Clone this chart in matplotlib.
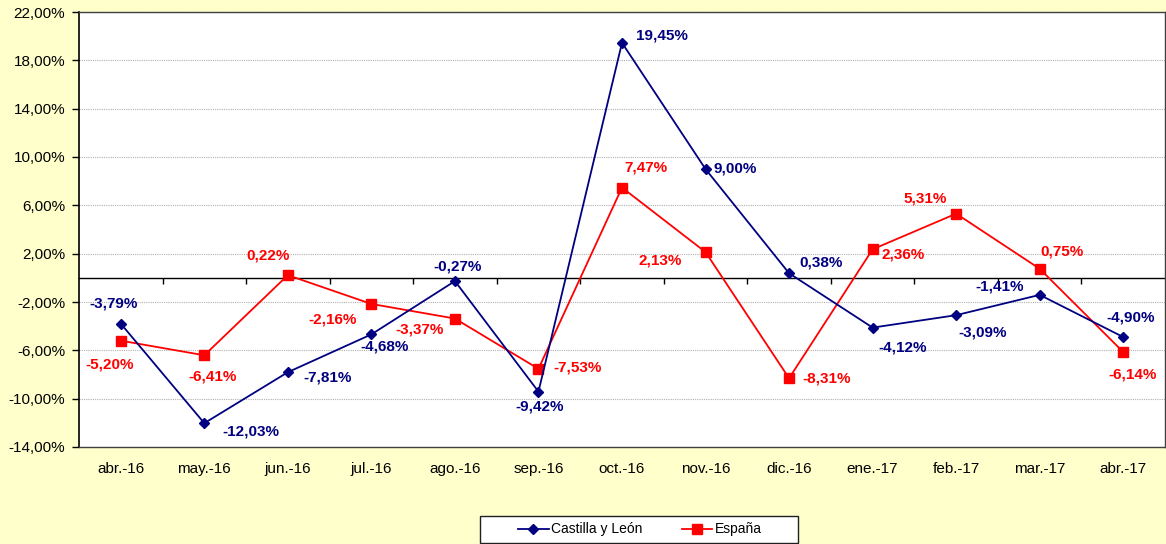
import matplotlib
matplotlib.use("Agg")
import matplotlib.pyplot as plt
from matplotlib.ticker import FixedLocator, FuncFormatter
from matplotlib.lines import Line2D
from matplotlib.patches import Rectangle

categories = ["abr.-16", "may.-16", "jun.-16", "jul.-16", "ago.-16", "sep.-16", "oct.-16",
              "nov.-16", "dic.-16", "ene.-17", "feb.-17", "mar.-17", "abr.-17"]
castilla = [-3.79, -12.03, -7.81, -4.68, -0.27, -9.42, 19.45, 9.00, 0.38, -4.12, -3.09, -1.41, -4.90]
espana = [-5.20, -6.41, 0.22, -2.16, -3.37, -7.53, 7.47, 2.13, -8.31, 2.36, 5.31, 0.75, -6.14]
series_names = ["Castilla y León", "España"]
y_ticks = [-14, -10, -6, -2, 2, 6, 10, 14, 18, 22]

# label offsets (style, pixels)
off_cyl = [(-7, 20), (47, -8), (40, -5), (13, -12), (3, 15), (1, -15), (40, 7),
           (30, 1), (32, 11), (30, -20), (26, -17), (-40, 8), (7, 20)]
off_esp = [(-11, -24), (8, -21), (-20, 20), (-39, -16), (-35, -11), (39, 1), (24, 20),
           (-45, -8), (38, 0), (31, -5), (-31, 15), (22, 17), (9, -22)]

NAVY = "#000080"
RED = "#FF0000"
BG = "#FFFFCC"
W, H = 1166, 544

plt.rcParams['font.family'] = ['Liberation Sans', 'DejaVu Sans']

fig = plt.figure(figsize=(W / 100, H / 100), dpi=100, facecolor=BG)
ax = fig.add_axes([79 / W, 1 - 447 / H, 1086 / W, 435 / H])
ax.set_facecolor("white")

x = list(range(len(categories)))
ax.plot(x, castilla, color=NAVY, lw=1.3, marker="D", ms=5, zorder=4)
ax.plot(x, espana, color=RED, lw=1.3, marker="s", ms=6.5, zorder=3)

for xi, v, o in zip(x, castilla, off_cyl):
    ax.annotate(f"{v:.2f}%".replace(".", ","), (xi, v), xytext=o, textcoords="offset pixels",
                ha="center", va="center", color=NAVY, fontsize=11, fontweight="bold", zorder=6)
for xi, v, o in zip(x, espana, off_esp):
    ax.annotate(f"{v:.2f}%".replace(".", ","), (xi, v), xytext=o, textcoords="offset pixels",
                ha="center", va="center", color=RED, fontsize=11, fontweight="bold", zorder=6)

ax.set_xlim(-0.5, len(categories) - 0.5)
ax.set_ylim(y_ticks[0], y_ticks[-1])
ax.yaxis.set_major_locator(FixedLocator(y_ticks))
ax.yaxis.set_major_formatter(FuncFormatter(lambda v, p: f"{v:.2f}%".replace(".", ",")))
ax.set_xticks(x)
ax.set_xticklabels(categories)
ax.tick_params(axis="x", length=0, pad=11, labelsize=11)
ax.tick_params(axis="y", length=5, width=1, direction="out", pad=5, labelsize=11)
ax.grid(axis="y", color="#B0B0B0", linestyle=(0, (1, 1)), lw=0.8, zorder=0)
ax.set_axisbelow(True)

for s in ["top", "right", "bottom"]:
    ax.spines[s].set_color("#404040")
    ax.spines[s].set_linewidth(1)
ax.spines["left"].set_color("black")
ax.spines["left"].set_linewidth(1.2)

# zero line with category-boundary ticks
loc0 = (0 - y_ticks[0]) / (y_ticks[-1] - y_ticks[0])
sec = ax.secondary_xaxis(loc0)
sec.set_xticks([i + 0.5 for i in range(len(categories) - 1)])
sec.tick_params(axis="x", length=4, width=1, direction="out", labelbottom=False, labeltop=False, color="black")
sec.spines["bottom"].set_color("black")
sec.spines["bottom"].set_linewidth(1)

# legend frame
fig.patches.append(Rectangle((480 / W, 1 - 543 / H), 318 / W, 27 / H, transform=fig.transFigure,
                             facecolor="white", edgecolor="#202020", lw=1, zorder=1))
handles = [Line2D([], [], color=NAVY, lw=1.3, marker="D", ms=5),
           Line2D([], [], color=RED, lw=1.3, marker="s", ms=6.5)]
leg = fig.legend(handles, series_names, loc="center", ncol=2,
                 bbox_to_anchor=(640 / W, 1 - 529.5 / H), fontsize=10,
                 frameon=False, handlelength=2.2,
                 columnspacing=2.8, borderpad=0.3, handletextpad=0.2)
leg.set_zorder(5)

fig.savefig("out.png", dpi=100, facecolor=BG)
